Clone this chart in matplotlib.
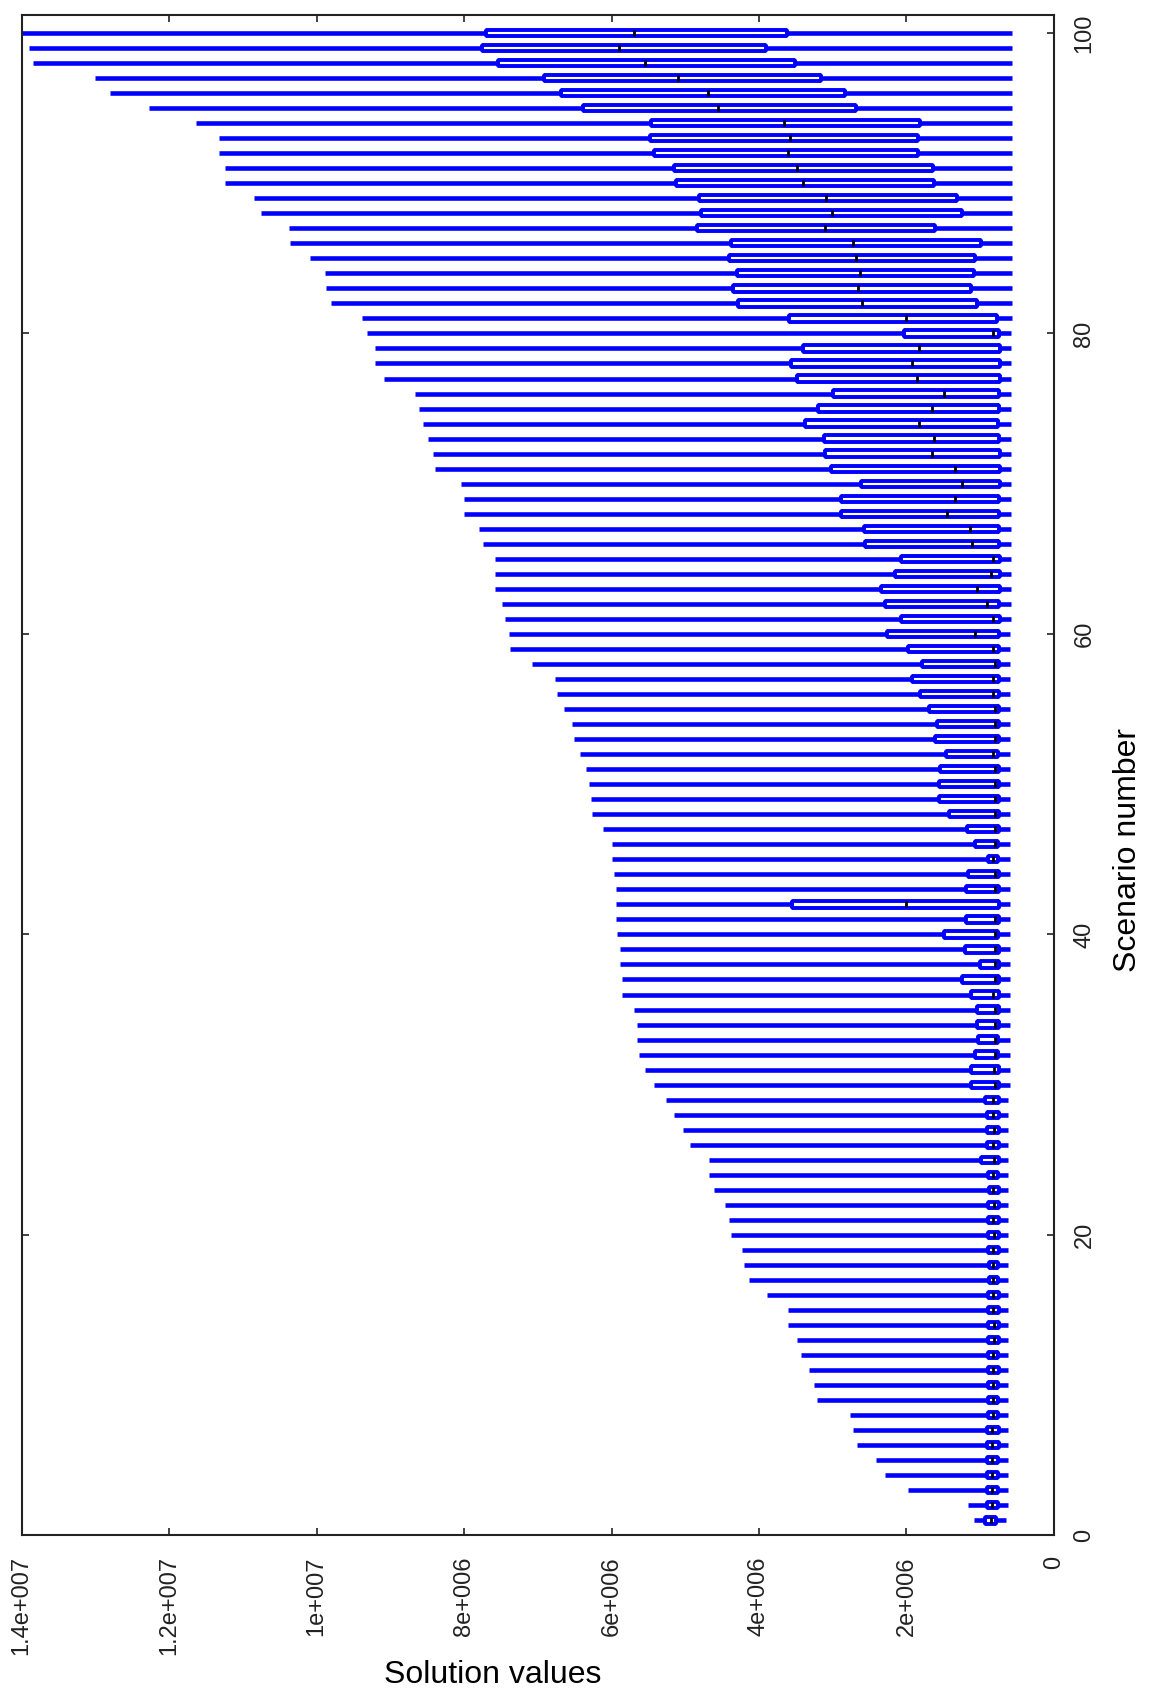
import matplotlib
matplotlib.use('Agg')
import matplotlib.pyplot as plt
from matplotlib.patches import Rectangle
import numpy as np

# one box per scenario, values in absolute units
scenario = np.arange(1, 101)

sol_max = [
    1.08e6, 1.16e6, 1.98e6, 2.29e6, 2.41e6, 2.67e6, 2.73e6, 2.76e6, 3.21e6, 3.26e6,
    3.32e6, 3.43e6, 3.49e6, 3.61e6, 3.61e6, 3.89e6, 4.14e6, 4.20e6, 4.23e6, 4.38e6,
    4.40e6, 4.46e6, 4.61e6, 4.68e6, 4.68e6, 4.94e6, 5.03e6, 5.15e6, 5.26e6, 5.43e6,
    5.54e6, 5.63e6, 5.65e6, 5.66e6, 5.69e6, 5.86e6, 5.86e6, 5.88e6, 5.89e6, 5.92e6,
    5.94e6, 5.94e6, 5.94e6, 5.97e6, 6.00e6, 6.00e6, 6.11e6, 6.26e6, 6.28e6, 6.31e6,
    6.35e6, 6.43e6, 6.51e6, 6.54e6, 6.65e6, 6.74e6, 6.77e6, 7.08e6, 7.37e6, 7.39e6,
    7.45e6, 7.48e6, 7.58e6, 7.58e6, 7.58e6, 7.74e6, 7.80e6, 8.00e6, 8.00e6, 8.04e6,
    8.40e6, 8.42e6, 8.49e6, 8.55e6, 8.61e6, 8.66e6, 9.09e6, 9.21e6, 9.21e6, 9.32e6,
    9.38e6, 9.81e6, 9.87e6, 9.89e6, 10.09e6, 10.36e6, 10.38e6, 10.75e6, 10.85e6, 11.24e6,
    11.24e6, 11.32e6, 11.32e6, 11.64e6, 12.27e6, 12.80e6, 13.00e6, 13.84e6, 13.90e6, 14.00e6,
]

upper_q = [
    0.93e6, 0.91e6, 0.91e6, 0.91e6, 0.91e6, 0.91e6, 0.91e6, 0.89e6, 0.89e6, 0.89e6,
    0.89e6, 0.89e6, 0.90e6, 0.90e6, 0.90e6, 0.89e6, 0.88e6, 0.88e6, 0.89e6, 0.90e6,
    0.90e6, 0.90e6, 0.88e6, 0.90e6, 0.99e6, 0.91e6, 0.91e6, 0.91e6, 0.93e6, 1.12e6,
    1.12e6, 1.07e6, 1.03e6, 1.04e6, 1.04e6, 1.13e6, 1.25e6, 1.00e6, 1.21e6, 1.49e6,
    1.19e6, 3.55e6, 1.19e6, 1.16e6, 0.90e6, 1.07e6, 1.18e6, 1.42e6, 1.56e6, 1.56e6,
    1.55e6, 1.47e6, 1.61e6, 1.59e6, 1.70e6, 1.82e6, 1.93e6, 1.79e6, 1.98e6, 2.27e6,
    2.08e6, 2.29e6, 2.34e6, 2.15e6, 2.08e6, 2.56e6, 2.57e6, 2.89e6, 2.89e6, 2.61e6,
    3.02e6, 3.10e6, 3.12e6, 3.37e6, 3.20e6, 3.00e6, 3.49e6, 3.56e6, 3.41e6, 2.04e6,
    3.59e6, 4.28e6, 4.35e6, 4.30e6, 4.41e6, 4.38e6, 4.84e6, 4.79e6, 4.81e6, 5.12e6,
    5.15e6, 5.42e6, 5.48e6, 5.47e6, 6.39e6, 6.69e6, 6.91e6, 7.54e6, 7.75e6, 7.70e6,
]

median = [
    0.85e6, 0.84e6, 0.84e6, 0.84e6, 0.84e6, 0.84e6, 0.84e6, 0.83e6, 0.82e6, 0.82e6,
    0.82e6, 0.83e6, 0.81e6, 0.81e6, 0.82e6, 0.82e6, 0.82e6, 0.82e6, 0.83e6, 0.81e6,
    0.82e6, 0.81e6, 0.82e6, 0.83e6, 0.81e6, 0.82e6, 0.81e6, 0.82e6, 0.83e6, 0.805e6,
    0.81e6, 0.805e6, 0.805e6, 0.805e6, 0.805e6, 0.83e6, 0.805e6, 0.805e6, 0.805e6, 0.805e6,
    0.805e6, 2.00e6, 0.805e6, 0.805e6, 0.83e6, 0.805e6, 0.805e6, 0.805e6, 0.805e6, 0.805e6,
    0.805e6, 0.82e6, 0.805e6, 0.805e6, 0.805e6, 0.83e6, 0.83e6, 0.805e6, 0.83e6, 1.065e6,
    0.82e6, 0.91e6, 1.05e6, 0.86e6, 0.82e6, 1.11e6, 1.14e6, 1.45e6, 1.34e6, 1.25e6,
    1.34e6, 1.65e6, 1.63e6, 1.83e6, 1.65e6, 1.49e6, 1.86e6, 1.92e6, 1.83e6, 0.82e6,
    2.00e6, 2.60e6, 2.66e6, 2.63e6, 2.69e6, 2.72e6, 3.11e6, 3.01e6, 3.09e6, 3.40e6,
    3.48e6, 3.60e6, 3.58e6, 3.66e6, 4.55e6, 4.69e6, 5.10e6, 5.55e6, 5.90e6, 5.69e6,
]

lower_q = [
    0.78e6, 0.76e6, 0.76e6, 0.76e6, 0.76e6, 0.75e6, 0.75e6, 0.76e6, 0.76e6, 0.76e6,
    0.75e6, 0.76e6, 0.75e6, 0.75e6, 0.75e6, 0.75e6, 0.76e6, 0.76e6, 0.75e6, 0.75e6,
    0.75e6, 0.75e6, 0.75e6, 0.76e6, 0.75e6, 0.75e6, 0.75e6, 0.75e6, 0.75e6, 0.75e6,
    0.75e6, 0.76e6, 0.76e6, 0.74e6, 0.74e6, 0.75e6, 0.75e6, 0.75e6, 0.75e6, 0.76e6,
    0.74e6, 0.74e6, 0.74e6, 0.75e6, 0.76e6, 0.76e6, 0.75e6, 0.75e6, 0.74e6, 0.74e6,
    0.75e6, 0.76e6, 0.75e6, 0.75e6, 0.75e6, 0.74e6, 0.74e6, 0.74e6, 0.75e6, 0.75e6,
    0.73e6, 0.74e6, 0.73e6, 0.73e6, 0.73e6, 0.74e6, 0.74e6, 0.74e6, 0.74e6, 0.73e6,
    0.73e6, 0.73e6, 0.74e6, 0.76e6, 0.74e6, 0.74e6, 0.73e6, 0.73e6, 0.73e6, 0.74e6,
    0.77e6, 1.05e6, 1.12e6, 1.08e6, 1.07e6, 0.99e6, 1.61e6, 1.25e6, 1.31e6, 1.63e6,
    1.645e6, 1.84e6, 1.84e6, 1.82e6, 2.68e6, 2.83e6, 3.16e6, 3.51e6, 3.90e6, 3.62e6,
]

sol_min = [
    0.65e6, 0.62e6, 0.62e6, 0.62e6, 0.62e6, 0.62e6, 0.62e6, 0.62e6, 0.62e6, 0.62e6,
    0.62e6, 0.62e6, 0.62e6, 0.62e6, 0.62e6, 0.62e6, 0.62e6, 0.62e6, 0.62e6, 0.62e6,
    0.62e6, 0.62e6, 0.62e6, 0.62e6, 0.62e6, 0.62e6, 0.62e6, 0.62e6, 0.62e6, 0.60e6,
    0.60e6, 0.60e6, 0.60e6, 0.60e6, 0.60e6, 0.60e6, 0.60e6, 0.60e6, 0.60e6, 0.60e6,
    0.60e6, 0.60e6, 0.60e6, 0.60e6, 0.60e6, 0.60e6, 0.60e6, 0.60e6, 0.60e6, 0.60e6,
    0.60e6, 0.60e6, 0.60e6, 0.60e6, 0.60e6, 0.60e6, 0.60e6, 0.60e6, 0.60e6, 0.60e6,
    0.58e6, 0.58e6, 0.58e6, 0.58e6, 0.58e6, 0.58e6, 0.58e6, 0.58e6, 0.58e6, 0.58e6,
    0.58e6, 0.58e6, 0.58e6, 0.58e6, 0.58e6, 0.58e6, 0.58e6, 0.58e6, 0.58e6, 0.58e6,
    0.57e6, 0.57e6, 0.57e6, 0.57e6, 0.57e6, 0.57e6, 0.57e6, 0.57e6, 0.57e6, 0.57e6,
    0.57e6, 0.57e6, 0.57e6, 0.57e6, 0.57e6, 0.57e6, 0.57e6, 0.57e6, 0.57e6, 0.57e6,
]

value_ticks = [0, 2e6, 4e6, 6e6, 8e6, 1e7, 1.2e7, 1.4e7]
value_labels = ['0', '2e+006', '4e+006', '6e+006', '8e+006', '1e+007', '1.2e+007', '1.4e+007']
scenario_ticks = [0, 20, 40, 60, 80, 100]

plt.rcParams['font.family'] = ['Liberation Sans', 'DejaVu Sans']

fig = plt.figure(figsize=(11.58, 16.96), dpi=100)
ax = fig.add_axes([0.01865, 0.0947, 0.8915, 0.8965])

blue = '#0000ff'
box_h = 0.42
for i, y in enumerate(scenario):
    # whisker, then the box on top of it, then the median tick
    ax.plot([sol_min[i], sol_max[i]], [y, y], color=blue, lw=3.3,
            solid_capstyle='butt', zorder=2)
    ax.add_patch(Rectangle((lower_q[i], y - box_h / 2), upper_q[i] - lower_q[i], box_h,
                           facecolor='white', edgecolor=blue, lw=2.8,
                           joinstyle='bevel', zorder=3))
    ax.plot([median[i], median[i]], [y - 0.2, y + 0.2], color='black', lw=2.0,
            solid_capstyle='butt', zorder=4)

ax.set_xlim(1.4e7, 0)
ax.set_ylim(0, 101.2)

ax.set_xticks(value_ticks)
ax.set_xticklabels(value_labels, rotation=90)
ax.yaxis.tick_right()
ax.set_yticks(scenario_ticks)
ax.set_yticklabels([str(t) for t in scenario_ticks], rotation=90, va='center')

ax.tick_params(direction='in', length=5, width=1.2, top=True, bottom=True,
               left=True, right=True, labelsize=17, colors='#222222')
ax.tick_params(axis='x', pad=15)
ax.tick_params(axis='y', pad=14)
for sp in ax.spines.values():
    sp.set_linewidth(1.5)
    sp.set_color('#222222')

fig.text(0.4257, 0.0125, 'Solution values', ha='center', va='center', fontsize=23)
fig.text(0.974, 0.4988, 'Scenario number', rotation=90, ha='center', va='center', fontsize=23)

fig.savefig('out.png', dpi=100)
